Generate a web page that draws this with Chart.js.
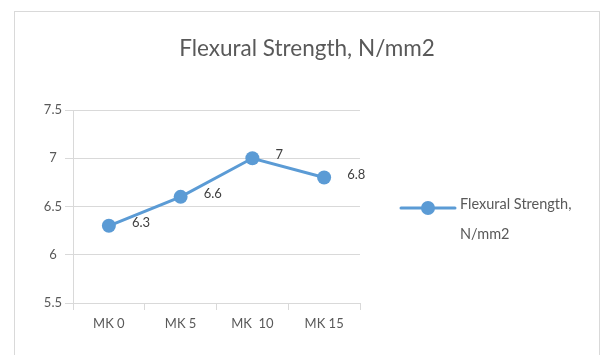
<!DOCTYPE html>
<html>
<head>
<meta charset="utf-8">
<script src="https://cdn.jsdelivr.net/npm/chart.js@4/dist/chart.umd.min.js"></script>
<style>
body{margin:0;background:#fff;overflow:hidden;}
#frame{position:absolute;left:14px;top:11px;width:584px;height:400px;border:1px solid #d9d9d9;}
#wrap{position:absolute;left:0;top:0;width:600px;height:355px;}
</style>
</head>
<body>
<div id="frame"></div>
<div id="wrap"><canvas id="chart" width="600" height="355"></canvas></div>
<script>
const categories=["MK 0","MK 5","MK  10","MK 15"];
const strength=[6.3,6.6,7,6.8];
const seriesName="Flexural Strength, N/mm2";
const yMin=5.5, yMax=7.5, yStep=0.5;

const blue="#5b9bd5";
const textGrey="#595959";
const gridGrey="#d9d9d9";
const font="Lato";

// title, value labels and the two-line legend on the right
const extras={
    id:"extras",
    afterDatasetsDraw(chart){
        const ctx=chart.ctx;
        const meta=chart.getDatasetMeta(0);
        ctx.save();
        ctx.font="13px "+font;
        ctx.fillStyle="#404040";
        ctx.textBaseline="middle";
        ctx.textAlign="left";
        meta.data.forEach((pt,i)=>{
            ctx.fillText(String(strength[i]),pt.x+23,pt.y-3);
        });
        ctx.restore();
    },
    afterDraw(chart){
        const ctx=chart.ctx;
        const ds=chart.data.datasets[0];
        ctx.save();
        ctx.fillStyle=textGrey;
        ctx.font="22.5px "+font;
        ctx.textAlign="center";
        ctx.textBaseline="middle";
        ctx.fillText(ds.label,307,49);

        ctx.strokeStyle=blue;
        ctx.lineWidth=3;
        ctx.lineCap="round";
        ctx.beginPath();
        ctx.moveTo(401,208);
        ctx.lineTo(455,208);
        ctx.stroke();
        ctx.fillStyle=blue;
        ctx.beginPath();
        ctx.arc(428,208,7,0,Math.PI*2);
        ctx.fill();

        const parts=ds.label.split(", ");
        ctx.fillStyle=textGrey;
        ctx.font="14.5px "+font;
        ctx.textAlign="left";
        ctx.fillText(parts[0]+",",460,204);
        ctx.fillText(parts[1],460,234);
        ctx.restore();
    }
};

new Chart(document.getElementById("chart"),{
    type:"line",
    data:{
        labels:categories,
        datasets:[{
            label:seriesName,
            data:strength,
            borderColor:blue,
            backgroundColor:blue,
            borderWidth:3,
            pointRadius:7,
            pointHoverRadius:7,
            pointBackgroundColor:blue,
            pointBorderWidth:0,
            tension:0
        }]
    },
    options:{
        responsive:false,
        animation:false,
        layout:{padding:{top:110,right:240,bottom:0,left:32}},
        plugins:{legend:{display:false},title:{display:false},tooltip:{enabled:false}},
        scales:{
            x:{
                offset:true,
                grid:{offset:true,drawOnChartArea:false,tickLength:7,color:gridGrey},
                border:{color:gridGrey},
                ticks:{color:textGrey,font:{family:font,size:13},padding:6},
                afterFit(scale){scale.height=52;}
            },
            y:{
                min:yMin,max:yMax,
                grid:{color:gridGrey,tickLength:8},
                border:{color:gridGrey},
                ticks:{stepSize:yStep,color:textGrey,font:{family:font,size:13},crossAlign:"center",padding:3,
                    callback:v=>String(v)},
                afterFit(scale){scale.width=41;}
            }
        }
    },
    plugins:[extras]
});
</script>
</body>
</html>
